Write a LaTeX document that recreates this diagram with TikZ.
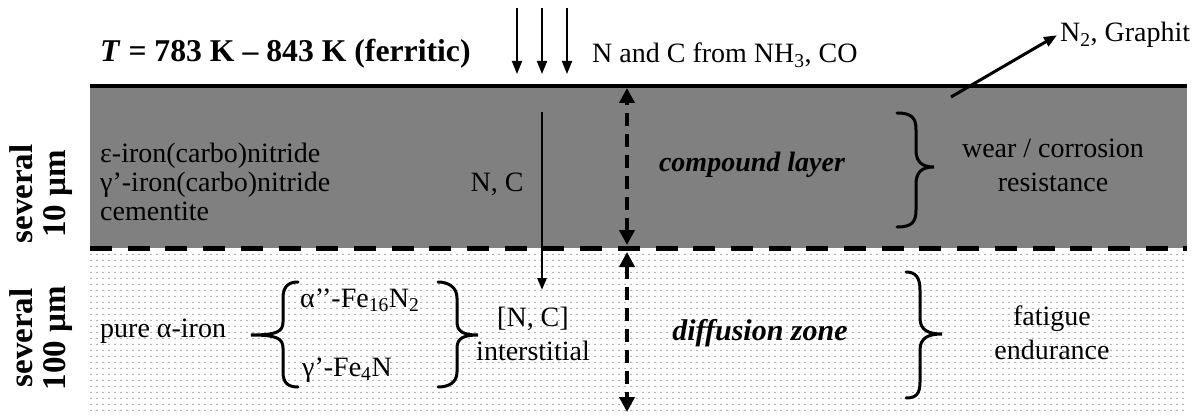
\documentclass[tikz,border=0pt]{standalone}
\usepackage{fontspec}
\setmainfont{Liberation Serif}
\usetikzlibrary{arrows.meta,patterns.meta}
\tikzdeclarepattern{name=greydots,type=uncolored,bounding box={(0pt,0pt) and (6pt,6pt)},tile size={(6pt,6pt)},code={\fill (0pt,0pt) rectangle (2.2pt,1.4pt);}}
\tikzset{
  txt/.style={inner sep=0pt,font=\fontsize{28}{31}\selectfont},
  ctxt/.style={inner sep=0pt,font=\fontsize{28}{34}\selectfont,align=center},
  bitxt/.style={inner sep=0pt,font=\fontsize{29}{33}\selectfont\bfseries\itshape},
  sidelbl/.style={inner sep=0pt,rotate=90,align=center,font=\fontsize{33}{33}\selectfont\bfseries},
  inarrow/.style={line width=1.8pt,-{Triangle[length=13pt,width=10pt]}},
  bigarrow/.style={line width=4pt,dash pattern=on 13pt off 8pt,{Triangle[length=15pt,width=15pt]}-{Triangle[length=15pt,width=15pt]}},
  brc/.style={line width=3pt,line cap=round}
}
\begin{document}
\begin{tikzpicture}[x=1pt,y=-1pt]
\useasboundingbox (0,0) rectangle (1199,417);
% layers
\fill[white] (90,250) rectangle (1187,413);
\fill[pattern=greydots,pattern color=black!30] (90,250) rectangle (1187,413);
\fill[black!50] (90,86) rectangle (1187,248);
\draw[line width=4.5pt] (90,86) -- (1187,86);
\draw[line width=5pt,dash pattern=on 22pt off 15.7pt] (90,248) -- (1187,248);
% title and inflow
\node[anchor=base west,inner sep=0pt,font=\fontsize{31.7}{35}\selectfont\bfseries] (title) at (100,62) {\textit{T} = 783 K – 843 K (ferritic)};
\coordinate (a1s) at (517,8); \coordinate (a1e) at (517,74);
\coordinate (a2s) at (542,8); \coordinate (a2e) at (542,74);
\coordinate (a3s) at (567,8); \coordinate (a3e) at (567,74);
\draw[inarrow] (a1s) -- (a1e);
\draw[inarrow] (a2s) -- (a2e);
\draw[inarrow] (a3s) -- (a3e);
\node[txt,anchor=base west] (src) at (592,63) {N and C from NH\textsubscript{3}, CO};
\node[txt,anchor=base west] (out) at (1060,42) {N\textsubscript{2}, Graphit};
\coordinate (outs) at (951,97);
\draw[line width=3pt,-{Triangle[length=13pt,width=10pt]}] (outs) -- ([xshift=-3pt]out.west);
% compound layer texts
\node[txt,anchor=base west] (eps) at (100,162) {ε-iron(carbo)nitride};
\node[txt,anchor=base west] (gam) at (100,191) {γ’-iron(carbo)nitride};
\node[txt,anchor=base west] (cem) at (100,220) {cementite};
\node[txt,anchor=base] (nc) at (497,191) {N, C};
\coordinate (ncs) at (542,112); \coordinate (nce) at (542,290);
\draw[line width=2.5pt,-{Triangle[length=12pt,width=9pt]}] (ncs) -- (nce);
\node[bitxt,font=\fontsize{28}{33}\selectfont\bfseries\itshape] (cl) at (752,165) {compound layer};
\node[ctxt] (wear) at (1053,165) {wear / corrosion\\resistance};
\coordinate (ut) at (627,88); \coordinate (ub) at (627,245);
\draw[bigarrow] (ub) -- (ut);
\coordinate (lt) at (627,252); \coordinate (lb) at (627,412);
\draw[bigarrow] (lt) -- (lb);
% braces
\draw[brc] (897,113) .. controls (912,113) and (916,118) .. (916,130) -- (916,150) .. controls (916,162) and (922,167) .. (934,167) .. controls (922,167) and (916,172) .. (916,184) -- (916,210) .. controls (916,222) and (912,227) .. (897,227);
\draw[brc] (906,272) .. controls (916,272) and (920,278) .. (920,290) -- (920,318) .. controls (920,330) and (928,334) .. (942,334) .. controls (928,334) and (920,338) .. (920,350) -- (920,382) .. controls (920,394) and (916,398) .. (906,398);
\draw[brc] (298,282) .. controls (288,282) and (283,287) .. (283,298) -- (283,322) .. controls (283,332) and (276,335) .. (251,335) .. controls (276,335) and (283,338) .. (283,348) -- (283,372) .. controls (283,383) and (288,387) .. (298,387);
\draw[brc] (438,282) .. controls (448,282) and (457,287) .. (457,298) -- (457,322) .. controls (457,332) and (464,335) .. (478,335) .. controls (464,335) and (457,338) .. (457,348) -- (457,372) .. controls (457,383) and (448,387) .. (438,387);
% diffusion zone texts
\node[txt,anchor=base west] (pure) at (100,337) {pure α-iron};
\node[txt,anchor=base west] (alpha) at (300,307) {α’’-Fe\textsubscript{16}N\textsubscript{2}};
\node[txt,anchor=base west] (gamma) at (302,376) {γ’-Fe\textsubscript{4}N};
\node[ctxt] (inter) at (533,334) {[N, C]\\interstitial};
\node[bitxt,font=\fontsize{30}{33}\selectfont\bfseries\itshape] (dz) at (760,333) {diffusion zone};
\node[ctxt] (fat) at (1052,333) {fatigue\\endurance};
% side labels
\node[sidelbl] (s1) at (41,194) {several\\10 µm};
\node[sidelbl] (s2) at (41,338) {several\\100 µm};
\end{tikzpicture}
\end{document}
